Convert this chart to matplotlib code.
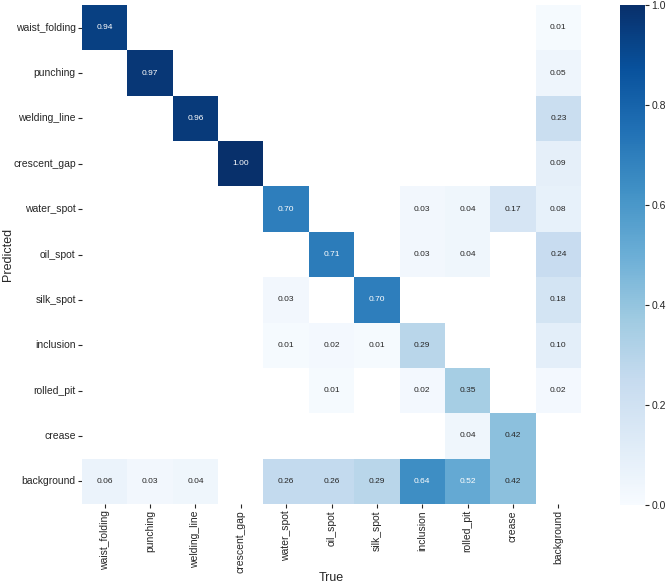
import numpy as np
import matplotlib
matplotlib.use('Agg')
import matplotlib.pyplot as plt
import seaborn as sns

names = ['waist_folding', 'punching', 'welding_line', 'crescent_gap', 'water_spot',
         'oil_spot', 'silk_spot', 'inclusion', 'rolled_pit', 'crease', 'background']
n = np.nan

# rows = Predicted, cols = True
row_waist_folding = [0.94, n, n, n, n, n, n, n, n, n, 0.01]
row_punching = [n, 0.97, n, n, n, n, n, n, n, n, 0.05]
row_welding_line = [n, n, 0.96, n, n, n, n, n, n, n, 0.23]
row_crescent_gap = [n, n, n, 1.00, n, n, n, n, n, n, 0.09]
row_water_spot = [n, n, n, n, 0.70, n, n, 0.03, 0.04, 0.17, 0.08]
row_oil_spot = [n, n, n, n, n, 0.71, n, 0.03, 0.04, n, 0.24]
row_silk_spot = [n, n, n, n, 0.03, n, 0.70, n, n, n, 0.18]
row_inclusion = [n, n, n, n, 0.01, 0.02, 0.01, 0.29, n, n, 0.10]
row_rolled_pit = [n, n, n, n, n, 0.01, n, 0.02, 0.35, n, 0.02]
row_crease = [n, n, n, n, n, n, n, n, 0.04, 0.42, n]
row_background = [0.06, 0.03, 0.04, n, 0.26, 0.26, 0.29, 0.64, 0.52, 0.42, n]

array = np.array([row_waist_folding, row_punching, row_welding_line, row_crescent_gap,
                  row_water_spot, row_oil_spot, row_silk_spot, row_inclusion,
                  row_rolled_pit, row_crease, row_background])

sns.set_theme(style='ticks', font_scale=1.0)
plt.rcParams['font.family'] = ['Liberation Sans', 'DejaVu Sans']

fig = plt.figure(figsize=(6.69, 5.83), dpi=100)
W, H = 669, 583
ax = fig.add_axes([82 / W, 1 - 504 / H, 499 / W, 499 / H])
cax = fig.add_axes([620 / W, 1 - 505 / H, 25 / W, 500 / H])

sns.heatmap(array, ax=ax, cbar_ax=cax, annot=True, annot_kws={'size': 6}, cmap='Blues',
            fmt='.2f', square=False, vmin=0.0, vmax=1.0,
            xticklabels=names, yticklabels=names).set_facecolor((1, 1, 1))

ax.set_xlabel('True', fontsize=9, color='#262626')
ax.set_ylabel('Predicted', fontsize=9, color='#262626')
ax.xaxis.set_label_coords(0.5, -0.136)
ax.yaxis.set_label_coords(-0.136, 0.5)
ax.tick_params(axis='both', labelsize=7.5, length=3, width=0.8, color='#262626',
               labelcolor='#262626', left=True, bottom=True, direction='out', pad=1.5)
plt.setp(ax.get_xticklabels(), rotation=90)
plt.setp(ax.get_yticklabels(), rotation=0)
cax.tick_params(labelsize=7.5, length=3, width=0.8, color='#262626', labelcolor='#262626',
                right=True, direction='out', pad=1.5)
cax.set_yticks([0.0, 0.2, 0.4, 0.6, 0.8, 1.0])
cax.set_yticklabels(['0.0', '0.2', '0.4', '0.6', '0.8', '1.0'])

fig.savefig('out.png', dpi=100)
